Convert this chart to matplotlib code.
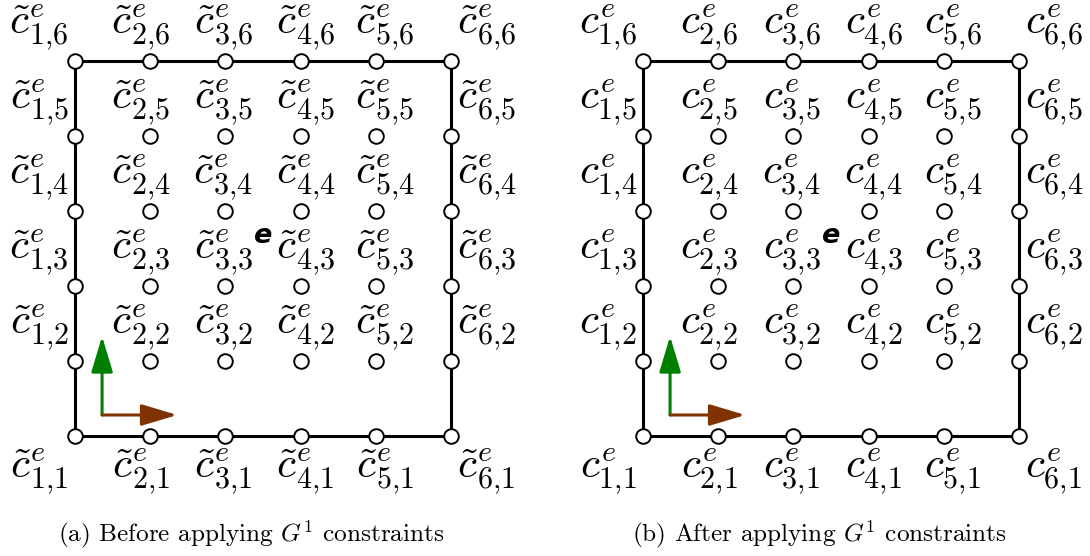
import matplotlib
matplotlib.use("Agg")
import matplotlib.pyplot as plt

plt.rcParams['mathtext.fontset'] = 'cm'

# grid of control points for one element (i = 1..6 along x, j = 1..6 along y)
n_i = 6
n_j = 6
i_idx = list(range(1, n_i + 1))
j_idx = list(range(1, n_j + 1))

captions = [r'(a) Before applying $G^1$ constraints',
            r'(b) After applying $G^1$ constraints']
tilde = [True, False]

# local frame arrows (origin and tips in grid units)
frame_origin = (1.36, 1.28)
frame_x_tip = (2.36, 1.28)
frame_y_tip = (1.36, 2.33)
elem_label_pos = (3.49, 3.67)
caption_pos = (3.34, -0.31)

green = '#008000'
brown = '#7f3300'

# horizontal shift (px) of the labels of inner columns i = 2..5
col_dx = {2: -9, 3: -2, 4: 5, 5: 9}

fig = plt.figure(figsize=(10.9, 5.56), dpi=100)

# pixel layout: grid spacing and left-corner position of each panel
step_x = 75.2
step_y = 75.0
W, H = 1090, 556
panel_left_px = [0, 545]
corner_px = [75, 643]
top_px = 61


def label_text(i, j, tl):
    c = r'\tilde{c}' if tl else 'c'
    return r'$%s^{e}_{%d{,}%d}$' % (c, i, j)


for p in range(2):
    ax = fig.add_axes([panel_left_px[p] / W, 0, 545 / W, 1])
    x0 = 1 - (corner_px[p] - panel_left_px[p]) / step_x
    x1 = 1 + (panel_left_px[p] + 545 - corner_px[p]) / step_x
    ax.set_xlim(x0, x1)
    ax.set_ylim(1 - (H - (top_px + 5 * step_y)) / step_y, n_j + top_px / step_y)
    ax.axis('off')

    # element boundary
    ax.plot([1, n_i, n_i, 1, 1], [1, 1, n_j, n_j, 1], color='black', lw=2.2,
            zorder=1, solid_joinstyle='miter')

    # local frame
    ax.annotate('', xy=frame_y_tip, xytext=frame_origin,
                arrowprops=dict(arrowstyle='-|>,head_length=1.1,head_width=0.33',
                                mutation_scale=20, lw=2.2, color=green,
                                shrinkA=0, shrinkB=0), zorder=2)
    ax.annotate('', xy=frame_x_tip, xytext=frame_origin,
                arrowprops=dict(arrowstyle='-|>,head_length=1.1,head_width=0.33',
                                mutation_scale=20, lw=2.2, color=brown,
                                shrinkA=0, shrinkB=0), zorder=2)

    for i in i_idx:
        for j in j_idx:
            ax.plot(i, j, 'o', ms=10.5, mfc='white', mec='black', mew=1.4, zorder=3)
            if i == 1:
                ha, dx = 'right', -6
            elif i == n_i:
                ha, dx = 'left', 6
            else:
                ha, dx = 'center', col_dx[i]
            if j == 1:
                va, dy = 'top', -10
            else:
                va, dy = 'bottom', 9
            ax.annotate(label_text(i, j, tilde[p]), xy=(i, j), xytext=(dx, dy),
                        textcoords='offset pixels', ha=ha, va=va, fontsize=31)

    ax.text(*elem_label_pos, 'e', ha='center', va='center', fontsize=19.5,
            fontweight='bold', fontstyle='italic', family='DejaVu Sans')
    ax.text(*caption_pos, captions[p], ha='center', va='center', fontsize=18.2,
            family='cmr10')

fig.savefig('out.png', dpi=100)
